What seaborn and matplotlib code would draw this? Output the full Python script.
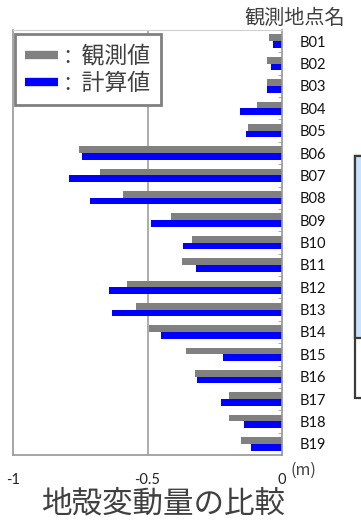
import numpy as np
import pandas as pd
import matplotlib
matplotlib.use("Agg")
import matplotlib.pyplot as plt
import seaborn as sns
from matplotlib.lines import Line2D
from matplotlib.patches import Rectangle

# データ (観測地点ごとの地殻変動量, 単位 m)
stations = ['B%02d' % i for i in range(1, 20)]
observed = [-0.050, -0.056, -0.054, -0.093, -0.125, -0.755, -0.675, -0.591, -0.414, -0.336,
            -0.372, -0.578, -0.544, -0.496, -0.358, -0.322, -0.197, -0.197, -0.153]
computed = [-0.035, -0.041, -0.054, -0.156, -0.133, -0.744, -0.790, -0.715, -0.488, -0.368,
            -0.320, -0.644, -0.631, -0.449, -0.218, -0.316, -0.227, -0.143, -0.115]
series = ['観測値', '計算値']
colors = ['#808080', '#0000ff']
xticks = [-1, -0.5, 0]

df = pd.DataFrame({
    'station': stations * 2,
    'value': observed + computed,
    'kind': [series[0]] * len(stations) + [series[1]] * len(stations),
})

sns.set_style('white')
plt.rcParams['font.family'] = ['Noto Sans CJK JP', 'DejaVu Sans']

fig = plt.figure(figsize=(3.61, 5.20), dpi=100)
ax = fig.add_axes([13 / 361, 1 - 455 / 520, 269 / 361, 425 / 520])
ax.set_axisbelow(True)

sns.barplot(data=df, x='value', y='station', hue='kind', order=stations,
            hue_order=series, palette=colors, orient='h', width=0.6,
            linewidth=0, saturation=1, legend=False, ax=ax)

ax.set_xlim(-1, 0)
ax.set_ylim(18.5, -0.5)
ax.set_xlabel('')
ax.set_ylabel('')

# 軸・枠
grid_c = '#969696'
for side in ['left', 'right', 'bottom']:
    ax.spines[side].set_visible(True)
    ax.spines[side].set_color(grid_c)
    ax.spines[side].set_linewidth(1.2)
ax.spines['top'].set_visible(True)
ax.spines['top'].set_color('#d0d0d0')
ax.spines['top'].set_linewidth(0.8)
ax.axvline(-0.5, color=grid_c, lw=1.1, zorder=0)

ax.set_xticks(xticks)
ax.set_xticklabels(['-1', '-0.5', '0'], fontfamily='Lato', fontsize=10.5, color='#222222')
ax.tick_params(axis='x', direction='out', length=4, color=grid_c, pad=9)

ax.yaxis.tick_right()
ax.set_yticks(range(len(stations)))
ax.set_yticklabels(stations, fontfamily='Lato', fontsize=10.5, color='#111111')
ax.tick_params(axis='y', which='major', length=0, pad=13)
ax.set_yticks(np.arange(0.5, 18, 1), minor=True)
ax.tick_params(axis='y', which='minor', direction='in', length=3, color='#a0a0a0',
               right=True, left=False)

# 凡例
handles = [Line2D([0], [0], color=c, lw=6, solid_capstyle='butt') for c in colors]
leg = ax.legend(handles, [':  ' + s for s in series], loc='upper left',
                bbox_to_anchor=(0.007, 0.99), borderaxespad=0, fancybox=False,
                handlelength=1.45, handletextpad=0.3, labelspacing=0.2,
                borderpad=0.45, fontsize=16.5, labelcolor='#404040')
leg.get_frame().set_edgecolor('#808080')
leg.get_frame().set_linewidth(2)
leg.get_frame().set_alpha(1)

# テキスト
fig.text(295 / 361, 1 - 18 / 520, '観測地点名', ha='center', va='center',
         fontsize=14.5, color='#404040')
fig.text(303 / 361, 1 - 470 / 520, '(m)', ha='center', va='center',
         fontsize=11.5, color='#404040')
fig.text(164 / 361, 1 - 504 / 520, '地殻変動量の比較', ha='center', va='center',
         fontsize=22, color='#404040')

# 右端の切れた枠
fig.add_artist(Rectangle((355 / 361, 1 - 398 / 520), 0.1, 242 / 520, transform=fig.transFigure,
                         facecolor='white', edgecolor='#3a3a3a', lw=1.6))
fig.add_artist(Rectangle((355 / 361, 1 - 338 / 520), 0.1, 182 / 520, transform=fig.transFigure,
                         facecolor='#c6e4ff', edgecolor='#3a3a3a', lw=1.6))

fig.savefig('out.png', dpi=100)
